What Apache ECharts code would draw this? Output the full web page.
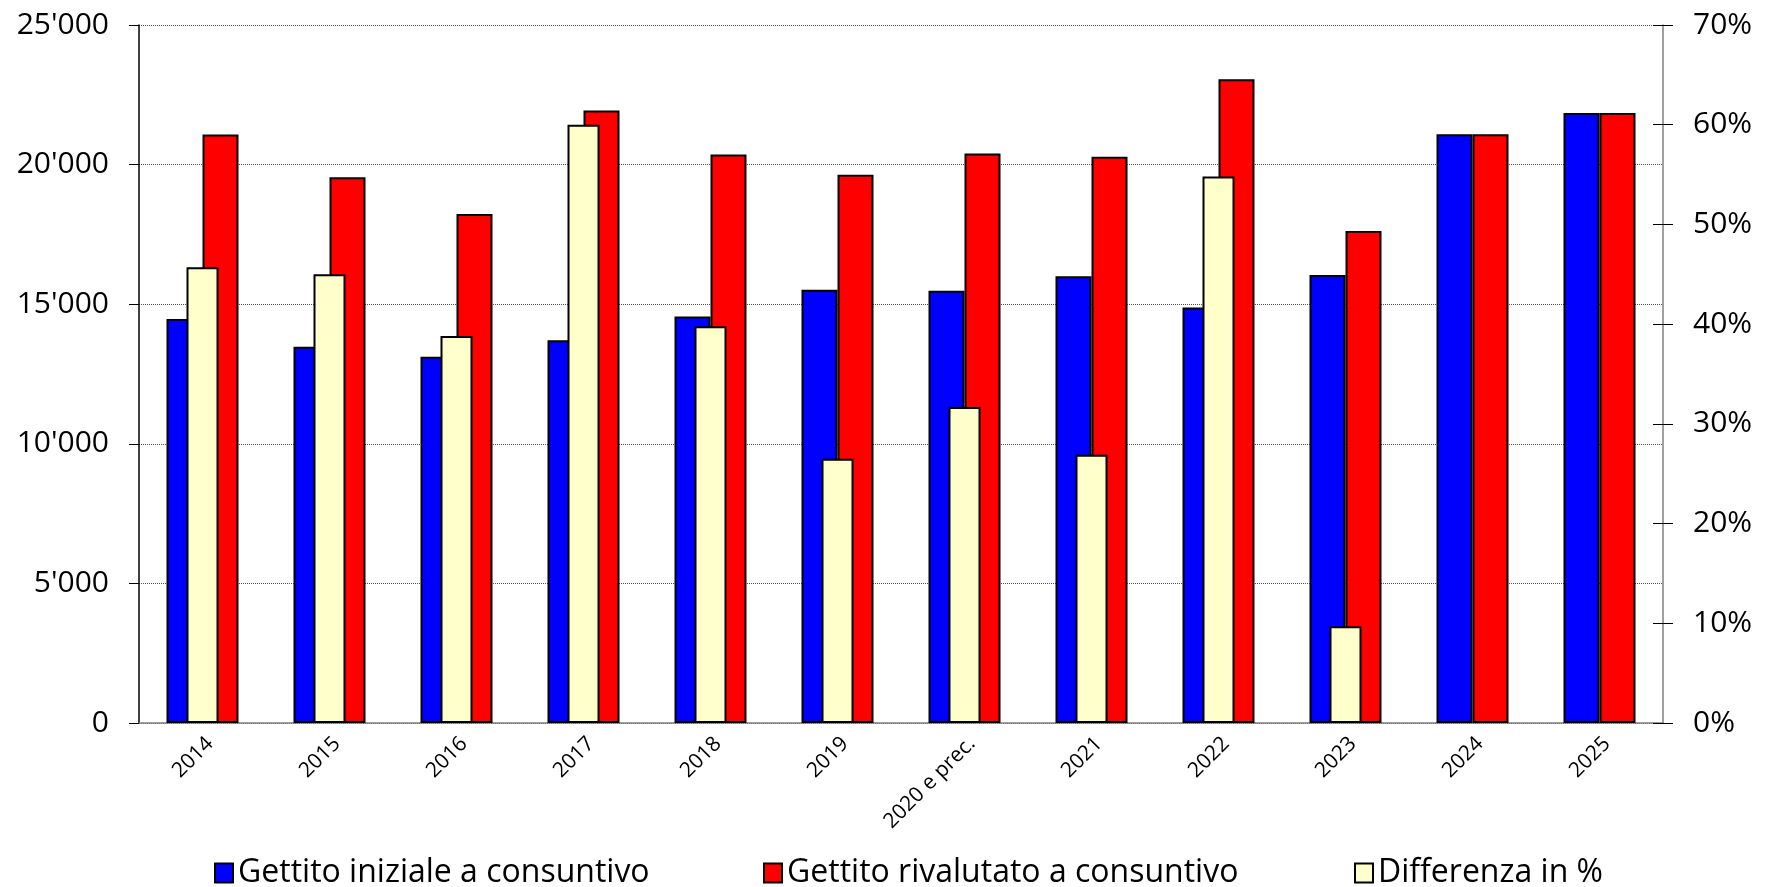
<!DOCTYPE html>
<html lang="it">
<head>
    <meta charset="UTF-8">
    <meta name="viewport" content="width=device-width, initial-scale=1.0">
    <title>Gettito</title>
    <script src="https://cdn.jsdelivr.net/npm/echarts@6.0.0/dist/echarts.min.js"></script>
    <style>
        html, body { margin: 0; padding: 0; background: #fff; }
    </style>
</head>
<body>
    <div id="main" style="width: 1766px;height:887px;"></div>
    <script type="text/javascript">
        // Data
        let categories = ['2014', '2015', '2016', '2017', '2018', '2019', '2020 e prec.', '2021', '2022', '2023', '2024', '2025'];
        let gettitoIniziale = [14470, 13480, 13120, 13710, 14560, 15520, 15480, 16000, 14880, 16050, 21090, 21850];
        let gettitoRivalutato = [21080, 19550, 18230, 21940, 20360, 19640, 20400, 20280, 23060, 17620, 21090, 21850];
        let differenzaPct = [45.7, 45.0, 38.8, 60.0, 39.8, 26.5, 31.7, 26.9, 54.8, 9.7, null, null];

        let leftTicks = [0, 25000, 5000];   // min, max, interval
        let rightTicks = [0, 70, 10];

        let seriesNames = ['Gettito iniziale a consuntivo', 'Gettito rivalutato a consuntivo', 'Differenza in %'];

        let font = '"Open Sans", "DejaVu Sans", sans-serif';
        let myChart = echarts.init(document.getElementById('main'));

        let legendBase = {
            orient: 'horizontal',
            top: 852,
            icon: 'rect',
            itemWidth: 18,
            itemHeight: 19,
            itemStyle: { borderColor: '#000', borderWidth: 2 },
            textStyle: { fontFamily: font, fontSize: 32, color: '#000' }
        };

        let options = {
            animation: false,
            backgroundColor: '#fff',
            grid: { left: 139, right: 103, top: 25, bottom: 164 },
            legend: [
                Object.assign({ left: 209, data: [seriesNames[0]] }, legendBase),
                Object.assign({ left: 758, data: [seriesNames[1]] }, legendBase),
                Object.assign({ left: 1349, data: [seriesNames[2]] }, legendBase)
            ],
            xAxis: [
                {
                    type: 'category',
                    data: categories,
                    boundaryGap: true,
                    axisLine: { lineStyle: { color: '#808080', width: 1.5 } },
                    axisTick: { length: 6, lineStyle: { color: '#444' } },
                    axisLabel: {
                        rotate: 45,
                        margin: 10,
                        align: 'right',
                        verticalAlign: 'top',
                        fontFamily: font,
                        fontSize: 21,
                        color: '#000',
                        interval: 0
                    }
                },
                {
                    type: 'category',
                    data: categories,
                    show: false
                }
            ],
            yAxis: [
                {
                    type: 'value',
                    min: leftTicks[0],
                    max: leftTicks[1],
                    interval: leftTicks[2],
                    axisLine: { show: true, lineStyle: { color: '#000', width: 1.5 } },
                    axisTick: { show: true, length: 10, lineStyle: { color: '#000' } },
                    axisLabel: {
                        margin: 30,
                        fontFamily: font,
                        fontSize: 30,
                        color: '#000',
                        formatter: v => v === 0 ? '0' : (v / 1000) + "'000"
                    },
                    splitLine: { lineStyle: { color: '#555', type: [1, 1], width: 1 } }
                },
                {
                    type: 'value',
                    position: 'right',
                    min: rightTicks[0],
                    max: rightTicks[1],
                    interval: rightTicks[2],
                    axisLine: { show: true, lineStyle: { color: '#808080', width: 1.5 } },
                    axisTick: { show: true, length: 10, lineStyle: { color: '#000' } },
                    axisLabel: {
                        margin: 30,
                        fontFamily: font,
                        fontSize: 30,
                        color: '#000',
                        formatter: '{value}%'
                    },
                    splitLine: { show: false }
                },
                {
                    // inner half of the right-hand tick marks
                    type: 'value',
                    position: 'right',
                    min: rightTicks[0],
                    max: rightTicks[1],
                    interval: rightTicks[2],
                    axisLine: { show: false },
                    axisTick: { show: true, inside: true, length: 10, lineStyle: { color: '#000' } },
                    axisLabel: { show: false },
                    splitLine: { show: false }
                }
            ],
            series: [
                {
                    name: seriesNames[0],
                    type: 'bar',
                    xAxisIndex: 0,
                    yAxisIndex: 0,
                    data: gettitoIniziale,
                    barWidth: 36,
                    barGap: '0%',
                    itemStyle: { color: '#0000ff', borderColor: '#000', borderWidth: 2 },
                    z: 2
                },
                {
                    name: seriesNames[1],
                    type: 'bar',
                    xAxisIndex: 0,
                    yAxisIndex: 0,
                    data: gettitoRivalutato,
                    barWidth: 36,
                    barGap: '0%',
                    itemStyle: { color: '#ff0000', borderColor: '#000', borderWidth: 2 },
                    z: 2
                },
                {
                    name: seriesNames[2],
                    type: 'bar',
                    xAxisIndex: 1,
                    yAxisIndex: 1,
                    data: differenzaPct,
                    barWidth: 32,
                    itemStyle: { color: '#ffffcc', borderColor: '#000', borderWidth: 2 },
                    z: 3
                }
            ]
        };

        myChart.setOption(options);
    </script>
</body>
</html>
